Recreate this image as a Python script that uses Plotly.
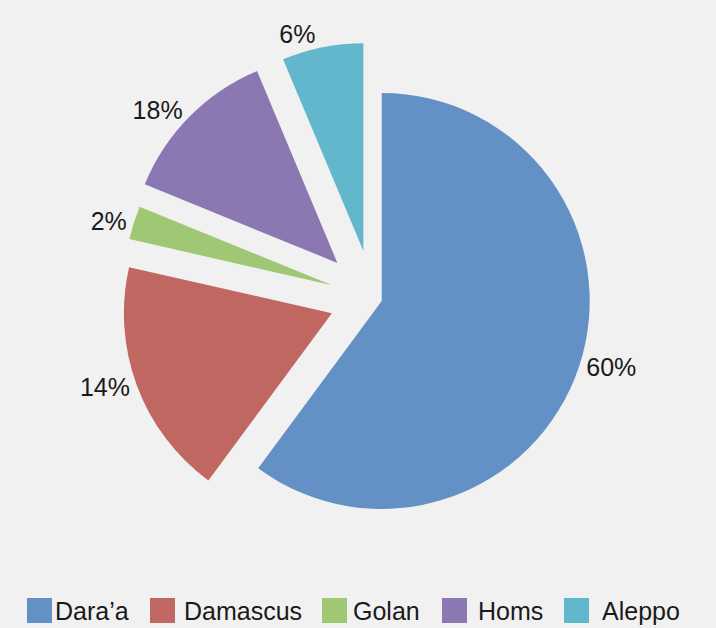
import plotly.graph_objects as go

# slice shares (angles), and the printed labels
regions = ["Dara’a", "Damascus", "Golan", "Homs", "Aleppo"]
shares = [60.0, 18.4, 2.6, 12.5, 6.3]
pct_labels = ["60%", "14%", "2%", "18%", "6%"]
colors = ["#6391c5", "#c16762", "#a0c874", "#8b77b1", "#62b7cc"]
pulls = [0.045, 0.21, 0.205, 0.24, 0.23]

W, H = 716, 628
FONT = "Liberation Sans, Arial, Helvetica, sans-serif"

# legend layout (pixels): swatch left edges and label left edges
swatch_x = [27, 150, 322, 442, 564]
label_x = [53, 182, 351, 476, 600]
legend_y = 610.5
swatch_size = 25


def px(x, y):
    return x / W, 1 - y / H


fig = go.Figure()
fig.add_trace(
    go.Pie(
        labels=regions,
        values=shares,
        text=pct_labels,
        textinfo="text",
        textposition="outside",
        textfont=dict(family=FONT, size=25, color="#1a1a1a"),
        marker=dict(colors=colors, line=dict(width=0)),
        pull=pulls,
        sort=False,
        direction="clockwise",
        rotation=0,
        automargin=False,
        domain=dict(x=[0.1605, 0.8809], y=[0.1148, 0.9361]),
        showlegend=False,
        hoverinfo="label+text",
    )
)

shapes = []
annotations = []
for name, color, sx, lx in zip(regions, colors, swatch_x, label_x):
    x0, y0 = px(sx, legend_y + swatch_size / 2)
    x1, y1 = px(sx + swatch_size, legend_y - swatch_size / 2)
    shapes.append(dict(
        type="rect", xref="paper", yref="paper",
        x0=x0, x1=x1, y0=y0, y1=y1,
        fillcolor=color, line=dict(width=0),
    ))
    ax, ay = px(lx, legend_y)
    annotations.append(dict(
        text=name, xref="paper", yref="paper", x=ax, y=ay,
        xanchor="left", yanchor="middle", showarrow=False,
        font=dict(family=FONT, size=25, color="#1a1a1a"),
    ))

fig.update_layout(
    width=W,
    height=H,
    margin=dict(l=0, r=0, t=0, b=0),
    paper_bgcolor="#f1f1f1",
    plot_bgcolor="#f1f1f1",
    shapes=shapes,
    annotations=annotations,
)

# drop the browser's default 8px page margin so the figure sits at 0,0
fig.write_html(
    "out.html",
    config={"displayModeBar": False},
    post_script="document.body.style.margin = '0';",
)
